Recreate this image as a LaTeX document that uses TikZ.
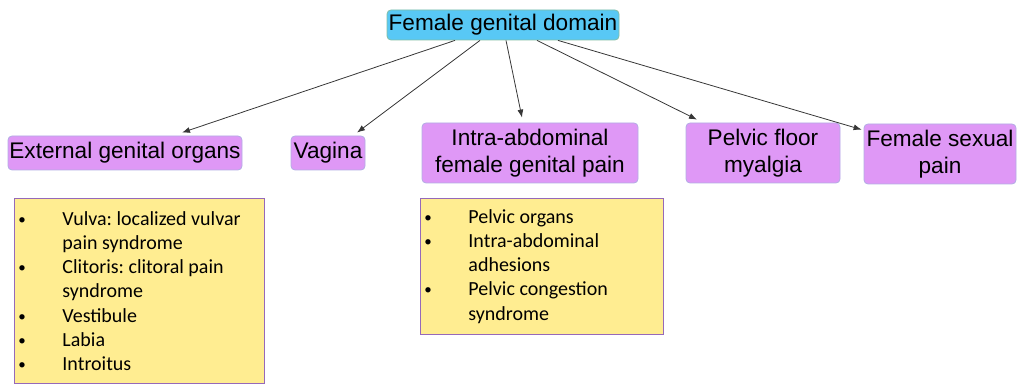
\documentclass[tikz,border=0pt]{standalone}
\usepackage{fontspec}
\setmainfont{Liberation Sans}
\newfontfamily\notefont{Carlito}
\usepackage{tikz}
\usetikzlibrary{arrows.meta, positioning}
\definecolor{TopCyan}{RGB}{88,200,245}
\definecolor{TopEdge}{RGB}{130,190,165}
\definecolor{NodeLilac}{RGB}{223,152,246}
\definecolor{NodeEdge}{RGB}{178,172,228}
\definecolor{NoteYellow}{RGB}{255,237,145}
\definecolor{NoteEdge}{RGB}{150,105,185}
\definecolor{LinkGray}{RGB}{55,55,55}
\frenchspacing
\newcommand{\bul}{\makebox[41pt][l]{\hspace*{-3pt}\raisebox{1pt}{\fontsize{15}{15}\selectfont\textbullet}}}
\newcommand{\cont}{\hspace*{41pt}}

\begin{document}
\begin{tikzpicture}[
    x=1pt, y=-1pt,
    rootbox/.style={fill=TopCyan, draw=TopEdge, line width=0.8pt,
      rounded corners=4pt, inner sep=0pt, minimum width=232pt,
      minimum height=30pt, font=\fontsize{22.6}{26}\selectfont},
    subbox/.style={fill=NodeLilac, draw=NodeEdge, line width=0.8pt,
      rounded corners=4pt, inner sep=0pt, align=center,
      font=\fontsize{22.6}{27}\selectfont},
    notebox/.style={fill=NoteYellow, draw=NoteEdge, line width=0.9pt,
      anchor=north west, inner xsep=7pt, inner ysep=0pt, align=flush left,
      font=\notefont\fontsize{20}{24.2}\selectfont},
    link/.style={draw=LinkGray, line width=0.8pt,
      -{Latex[length=8pt,width=6pt]}}
  ]
  \useasboundingbox (0,0) rectangle (1017,387);

  % root
  \node[rootbox] (top) at (503,25) {Female genital domain};

  % sub-domains
  \node[subbox, minimum width=234pt, minimum height=34pt] (ext) at (125,153) {External genital organs};
  \node[subbox, minimum width=74pt, minimum height=34pt] (vag) at (328,153) {Vagina};
  \node[subbox, minimum width=216pt, minimum height=60pt] (intra) at (530,153) {Intra-abdominal\\female genital pain};
  \node[subbox, minimum width=154pt, minimum height=60pt] (pelvic) at (763,153) {Pelvic floor\\myalgia};
  \node[subbox, minimum width=152pt, minimum height=60pt] (sexual) at (940,154) {Female sexual\\pain};

  % notes
  \node[notebox, text width=236pt, minimum height=185pt] (extnote) at (14,198) {
    \bul Vulva: localized vulvar\\
    \cont pain syndrome\\
    \bul Clitoris: clitoral pain\\
    \cont syndrome\\
    \bul Vestibule\\
    \bul Labia\\
    \bul Introitus
  };
  \node[notebox, text width=229pt, minimum height=136pt] (intranote) at (420,198) {
    \bul Pelvic organs\\
    \bul Intra-abdominal\\
    \cont adhesions\\
    \bul Pelvic congestion\\
    \cont syndrome
  };

  % connectors
  \draw[link] ([xshift=-48pt]top.south) -- ([xshift=57pt,yshift=3pt]ext.north);
  \draw[link] ([xshift=-23pt]top.south) -- ([xshift=29pt,yshift=3pt]vag.north);
  \draw[link] ([xshift=3pt]top.south) -- ([xshift=-8pt,yshift=5pt]intra.north);
  \draw[link] ([xshift=34pt]top.south) -- ([xshift=-66pt,yshift=3pt]pelvic.north);
  \draw[link] ([xshift=55pt]top.south) -- ([xshift=-2pt,yshift=-6pt]sexual.north west);
\end{tikzpicture}
\end{document}
